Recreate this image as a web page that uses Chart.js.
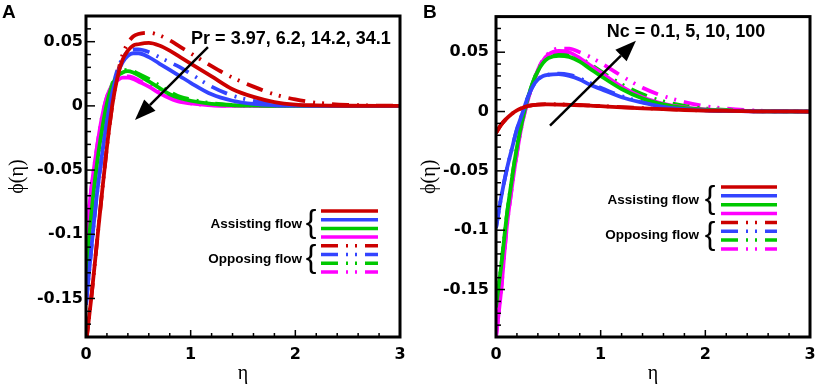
<!DOCTYPE html>
<html>
<head>
<meta charset="utf-8">
<script src="https://cdn.jsdelivr.net/npm/chart.js@4.4.1/dist/chart.umd.min.js"></script>
<style>
  html, body { margin: 0; padding: 0; background: #fff; }
  #wrap { position: relative; width: 816px; height: 384px; }
  canvas { position: absolute; top: 0; }
  #panelA { left: 0; }
  #panelB { left: 408px; }
</style>
</head>
<body>
<div id="wrap">
  <canvas id="panelA" width="408" height="384"></canvas>
  <canvas id="panelB" width="408" height="384"></canvas>
</div>
<script>
// eta grid shared by every curve
const eta = [0, 0.05, 0.1, 0.15, 0.2, 0.25, 0.3, 0.35, 0.4, 0.45, 0.5, 0.6, 0.7, 0.8, 0.9, 1.0, 1.2, 1.4, 1.6, 1.8, 2.0, 2.2, 2.5, 3.0]
const xTicks = [0, 1, 2, 3]
const yTicks = [-0.15, -0.1, -0.05, 0, 0.05]
const flowNames = ['Assisting flow', 'Opposing flow']
const colors = ['#cc0000', '#3344ff', '#00c800', '#ff00ff']

// panel A : Pr = 3.97, 6.2, 14.2, 34.1
const aAssistPr397 = [-0.185, -0.15, -0.11, -0.07, -0.032, 0.0, 0.022, 0.036, 0.043, 0.047, 0.048, 0.049, 0.047, 0.043, 0.038, 0.033, 0.023, 0.013, 0.007, 0.003, 0.001, 0.0004, 0.0001, 0]
const aAssistPr62 = [-0.155, -0.112, -0.072, -0.04, -0.012, 0.01, 0.025, 0.034, 0.039, 0.041, 0.041, 0.038, 0.033, 0.028, 0.023, 0.018, 0.009, 0.004, 0.0015, 0.0005, 0.0002, 0, 0, 0]
const aAssistPr142 = [-0.13, -0.085, -0.048, -0.02, 0.002, 0.016, 0.023, 0.026, 0.027, 0.026, 0.024, 0.019, 0.014, 0.009, 0.006, 0.004, 0.0015, 0.0005, 0.0002, 0, 0, 0, 0, 0]
const aAssistPr341 = [-0.105, -0.065, -0.035, -0.01, 0.007, 0.016, 0.02, 0.022, 0.022, 0.021, 0.019, 0.015, 0.01, 0.006, 0.003, 0.002, 0.0005, 0, 0, 0, 0, 0, 0, 0]
const aOpposePr397 = [-0.185, -0.15, -0.11, -0.07, -0.032, 0.0, 0.024, 0.04, 0.049, 0.054, 0.056, 0.057, 0.055, 0.051, 0.046, 0.041, 0.031, 0.022, 0.015, 0.009, 0.005, 0.0025, 0.0008, 0]
const aOpposePr62 = [-0.155, -0.112, -0.072, -0.04, -0.012, 0.012, 0.028, 0.037, 0.042, 0.044, 0.044, 0.042, 0.038, 0.034, 0.03, 0.025, 0.015, 0.008, 0.004, 0.0015, 0.0005, 0, 0, 0]
const aOpposePr142 = [-0.13, -0.085, -0.048, -0.02, 0.003, 0.017, 0.024, 0.027, 0.028, 0.027, 0.025, 0.021, 0.016, 0.011, 0.007, 0.005, 0.002, 0.0007, 0.0002, 0, 0, 0, 0, 0]
const aOpposePr341 = [-0.105, -0.065, -0.035, -0.01, 0.007, 0.016, 0.02, 0.022, 0.023, 0.022, 0.02, 0.016, 0.011, 0.007, 0.004, 0.002, 0.0006, 0.0002, 0, 0, 0, 0, 0, 0]

// panel B : Nc = 0.1, 5, 10, 100
const bAssistNc01 = [-0.018, -0.011, -0.006, -0.002, 0.001, 0.003, 0.0045, 0.0053, 0.0058, 0.006, 0.006, 0.0059, 0.0056, 0.0053, 0.005, 0.0045, 0.0035, 0.0027, 0.002, 0.0013, 0.0008, 0.0005, 0.0002, 0]
const bAssistNc5 = [-0.098, -0.072, -0.05, -0.032, -0.015, -0.002, 0.011, 0.021, 0.027, 0.03, 0.031, 0.0315, 0.03, 0.027, 0.0225, 0.019, 0.012, 0.0075, 0.004, 0.002, 0.001, 0.0005, 0.0002, 0]
const bAssistNc10 = [-0.165, -0.13, -0.09, -0.058, -0.03, -0.008, 0.01, 0.024, 0.034, 0.041, 0.045, 0.047, 0.046, 0.042, 0.036, 0.03, 0.019, 0.011, 0.006, 0.003, 0.0015, 0.0007, 0.0002, 0]
const bAssistNc100 = [-0.19, -0.15, -0.1, -0.065, -0.035, -0.01, 0.008, 0.023, 0.034, 0.043, 0.048, 0.051, 0.05, 0.045, 0.039, 0.033, 0.021, 0.012, 0.0065, 0.0035, 0.0017, 0.0008, 0.0002, 0]
const bOpposeNc01 = [-0.018, -0.011, -0.006, -0.002, 0.001, 0.003, 0.0046, 0.0054, 0.0059, 0.0061, 0.0062, 0.006, 0.0058, 0.0055, 0.0052, 0.0047, 0.0037, 0.0029, 0.0021, 0.0014, 0.0009, 0.0005, 0.0002, 0]
const bOpposeNc5 = [-0.098, -0.072, -0.05, -0.032, -0.015, -0.002, 0.011, 0.021, 0.027, 0.03, 0.031, 0.032, 0.031, 0.028, 0.024, 0.02, 0.013, 0.008, 0.005, 0.0025, 0.0012, 0.0006, 0.0002, 0]
const bOpposeNc10 = [-0.165, -0.13, -0.09, -0.058, -0.03, -0.008, 0.01, 0.024, 0.035, 0.042, 0.047, 0.049, 0.048, 0.045, 0.04, 0.034, 0.023, 0.0145, 0.0085, 0.0048, 0.0026, 0.0013, 0.0004, 0]
const bOpposeNc100 = [-0.19, -0.15, -0.1, -0.065, -0.035, -0.01, 0.008, 0.023, 0.035, 0.044, 0.049, 0.053, 0.053, 0.05, 0.046, 0.041, 0.03, 0.02, 0.013, 0.008, 0.0045, 0.0025, 0.0008, 0]

const dashDotDot = [17, 8, 2, 7, 2, 8]

function makeSet(vals, color, dash) {
    return {
        data: vals.map((v, i) => ({ x: eta[i], y: v })),
        borderColor: color,
        borderWidth: 3.8,
        borderDash: dash,
        borderCapStyle: 'butt',
        pointRadius: 0,
        cubicInterpolationMode: 'monotone',
        fill: false,
    }
}

function buildSets(assist, oppose) {
    const sets = []
    assist.forEach((vals, i) => sets.push(makeSet(vals, colors[i], [])))
    oppose.forEach((vals, i) => sets.push(makeSet(vals, colors[i], dashDotDot)))
    return sets
}

// frame + inward ticks
const frameTicks = {
    id: 'frameTicks',
    afterDatasetsDraw(chart) {
        const { ctx, chartArea: a, scales: { x, y } } = chart
        ctx.save()
        ctx.strokeStyle = '#000'
        ctx.lineWidth = 1.5
        for (let i = 0; i <= 15; i++) {
            const px = x.getPixelForValue(i * 0.2)
            const len = i % 5 === 0 ? 7 : 4
            ctx.beginPath()
            ctx.moveTo(px, a.bottom)
            ctx.lineTo(px, a.bottom - len)
            ctx.stroke()
        }
        for (let k = Math.ceil(y.min * 100); k <= Math.floor(y.max * 100); k++) {
            const py = y.getPixelForValue(k / 100)
            const len = k % 5 === 0 ? 9 : 5
            ctx.beginPath()
            ctx.moveTo(a.left, py)
            ctx.lineTo(a.left + len, py)
            ctx.stroke()
        }
        ctx.lineWidth = 3
        ctx.strokeRect(a.left, a.top, a.right - a.left, a.bottom - a.top)
        ctx.restore()
    },
}

function drawArrow(ctx, x0, y0, x1, y1) {
    const ang = Math.atan2(y1 - y0, x1 - x0)
    const hl = 21, hw = 8
    const bx = x1 - hl * Math.cos(ang), by = y1 - hl * Math.sin(ang)
    ctx.lineWidth = 2.5
    ctx.beginPath()
    ctx.moveTo(x0, y0)
    ctx.lineTo(bx, by)
    ctx.stroke()
    ctx.beginPath()
    ctx.moveTo(x1, y1)
    ctx.lineTo(bx - hw * Math.sin(ang), by + hw * Math.cos(ang))
    ctx.lineTo(bx + hw * Math.sin(ang), by - hw * Math.cos(ang))
    ctx.closePath()
    ctx.fill()
}

// panel letter, annotation, arrow, legend
const decor = {
    id: 'decor',
    afterDraw(chart, args, o) {
        const { ctx, scales: { x, y } } = chart
        ctx.save()
        ctx.fillStyle = '#000'
        ctx.strokeStyle = '#000'

        ctx.font = 'bold 19px "Liberation Sans"'
        ctx.textAlign = 'left'
        ctx.textBaseline = 'top'
        ctx.fillText(o.letter, o.letterX, 3)

        ctx.font = 'bold 18px "Liberation Sans"'
        ctx.textAlign = 'center'
        ctx.textBaseline = 'middle'
        ctx.fillText(o.note, x.getPixelForValue(o.noteAt[0]), y.getPixelForValue(o.noteAt[1]))

        drawArrow(ctx,
            x.getPixelForValue(o.arrow[0]), y.getPixelForValue(o.arrow[1]),
            x.getPixelForValue(o.arrow[2]), y.getPixelForValue(o.arrow[3]))

        // legend
        chart.data.datasets.forEach((ds, i) => {
            const ly = o.legY + i * o.legStep
            ctx.strokeStyle = ds.borderColor
            ctx.lineWidth = 3.5
            ctx.setLineDash(ds.borderDash)
            ctx.beginPath()
            ctx.moveTo(o.legX0, ly)
            ctx.lineTo(o.legX1, ly)
            ctx.stroke()
        })
        ctx.setLineDash([])
        ctx.fillStyle = '#000'
        flowNames.forEach((name, g) => {
            const cy = o.legY + (g * 4 + 1.5) * o.legStep
            ctx.font = 'bold 13.5px "Liberation Sans"'
            ctx.textAlign = 'right'
            ctx.fillText(name, o.legText, cy)
            ctx.font = '32px "Liberation Sans"'
            ctx.textAlign = 'center'
            ctx.fillText('{', o.braceX, cy - 1)
        })
        ctx.restore()
    },
}

function makeChart(id, sets, yMin, yMax, yWidth, tickPad, titlePad, padRight, dec) {
    return new Chart(document.getElementById(id).getContext('2d'), {
        type: 'line',
        data: { datasets: sets },
        options: {
            responsive: false,
            animation: false,
            events: [],
            layout: { padding: { left: 0, right: padRight, top: 16, bottom: 0 } },
            plugins: {
                legend: { display: false },
                tooltip: { enabled: false },
                decor: dec,
            },
            scales: {
                x: {
                    type: 'linear',
                    min: 0,
                    max: 3,
                    grid: { display: false, drawTicks: false },
                    border: { display: false },
                    afterBuildTicks: (s) => { s.ticks = xTicks.map(v => ({ value: v })) },
                    afterFit: (s) => {
                        s.height = 47
                        s.paddingLeft = 0
                        s.paddingRight = 0
                    },
                    ticks: {
                        color: '#000',
                        padding: 8,
                        maxRotation: 0,
                        font: { family: 'DejaVu Sans', weight: 'bold', size: 16 },
                    },
                    title: {
                        display: true,
                        text: 'η',
                        color: '#000',
                        padding: { top: 0, bottom: 0 },
                        font: { family: 'Liberation Serif', size: 20, lineHeight: 1 },
                    },
                },
                y: {
                    min: yMin,
                    max: yMax,
                    grid: { display: false, drawTicks: false },
                    border: { display: false },
                    afterBuildTicks: (s) => { s.ticks = yTicks.map(v => ({ value: v })) },
                    afterFit: (s) => { s.width = yWidth },
                    ticks: {
                        color: '#000',
                        padding: tickPad,
                        font: { family: 'DejaVu Sans', weight: 'bold', size: 16 },
                        callback: (v) => String(Number(v.toFixed(2))),
                    },
                    title: {
                        display: true,
                        text: 'ϕ(η)',
                        color: '#000',
                        padding: { top: titlePad, bottom: 0 },
                        font: { family: 'Liberation Serif', size: 20, lineHeight: 1 },
                    },
                },
            },
        },
        plugins: [frameTicks, decor],
    })
}

makeChart('panelA',
    buildSets([aAssistPr397, aAssistPr62, aAssistPr142, aAssistPr341],
              [aOpposePr397, aOpposePr62, aOpposePr142, aOpposePr341]),
    -0.18, 0.07, 86, 3, 8, 8,
    {
        letter: 'A', letterX: 2,
        note: 'Pr = 3.97, 6.2, 14.2, 34.1', noteAt: [1.958, 0.052],
        arrow: [1.165, 0.0457, 0.468, -0.011],
        legX0: 321, legX1: 378, legY: 211, legStep: 8.7, legText: 302, braceX: 311,
    })

makeChart('panelB',
    buildSets([bAssistNc01, bAssistNc5, bAssistNc10, bAssistNc100],
              [bOpposeNc01, bOpposeNc5, bOpposeNc10, bOpposeNc100]),
    -0.19, 0.08, 88, 7, 12, 6,
    {
        letter: 'B', letterX: 15,
        note: 'Nc = 0.1, 5, 10, 100', noteAt: [1.815, 0.0673],
        arrow: [0.516, -0.0119, 1.337, 0.0596],
        legX0: 313, legX1: 369, legY: 187, legStep: 8.85, legText: 291, braceX: 302,
    })
</script>
</body>
</html>
